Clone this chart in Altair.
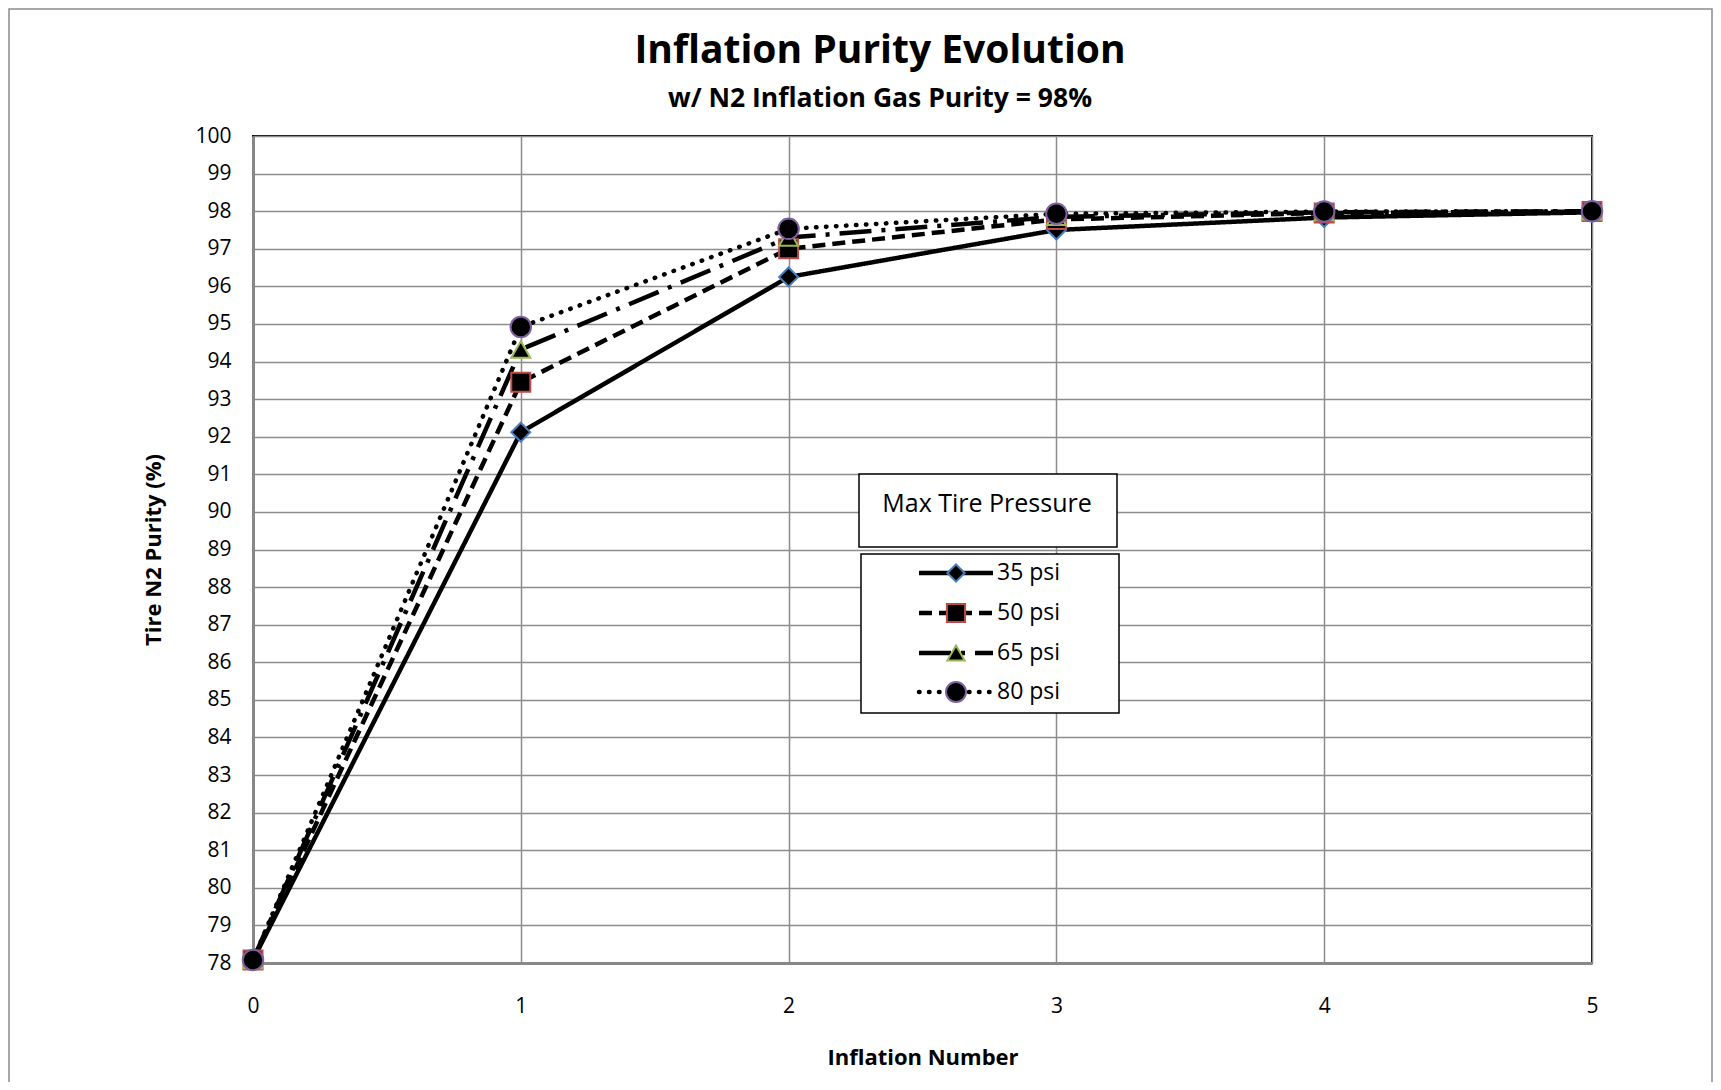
import altair as alt
import pandas as pd

# ---- data ----
inflation = [0, 1, 2, 3, 4, 5]
p35 = [78.08, 92.12, 96.25, 97.50, 97.83, 97.97]
p50 = [78.08, 93.45, 97.00, 97.78, 97.95, 97.99]
p65 = [78.08, 94.32, 97.30, 97.85, 97.97, 98.00]
p80 = [78.08, 94.92, 97.53, 97.93, 97.99, 98.00]
series_names = ["35 psi", "50 psi", "65 psi", "80 psi"]
y_ticks = list(range(78, 101))
x_ticks = [0, 1, 2, 3, 4, 5]

FONT = "Open Sans"
W, H = 1339, 827
PAD = {"left": 245, "top": 128, "right": 121, "bottom": 119}

rows = []
for name, vals in zip(series_names, [p35, p50, p65, p80]):
    for xv, yv in zip(inflation, vals):
        rows.append({"series": name, "x": xv, "y": yv})
df = pd.DataFrame(rows)

styles = {
    "35 psi": dict(dash=[1, 0], cap="butt", shape="diamond", stroke="#4A7EBB", size=360, lsize=300),
    "50 psi": dict(dash=[13, 7], cap="butt", shape="square", stroke="#BE4B48", size=361, lsize=330),
    "65 psi": dict(dash=[32, 10, 4, 10], cap="butt", shape="triangle-up", stroke="#98B954", size=360, lsize=300),
    "80 psi": dict(dash=[0.5, 9.5], cap="round", shape="circle", stroke="#7D60A0", size=420, lsize=400),
}

xs = alt.Scale(domain=[0, 5], nice=False)
ys = alt.Scale(domain=[78, 100], nice=False, zero=False)

x_axis = alt.Axis(
    values=x_ticks, format="d", title="Inflation Number", grid=True, ticks=False,
    labelPadding=32, labelFontSize=21, labelFont=FONT, labelColor="#000",
    labelFlush=False, labelOverlap=False,
    titleFont=FONT, titleFontSize=22, titleFontWeight="bold", titleColor="#000",
    titleX=W / 2, titleY=94, titleBaseline="middle", titleAnchor="middle",
    domainColor="#888888", domainWidth=3, gridColor="#8C8C8C", gridWidth=1.5,
)
y_axis = alt.Axis(
    values=y_ticks, format="d", title="Tire N2 Purity (%)", grid=True, ticks=False,
    labelPadding=22, labelFontSize=21, labelFont=FONT, labelColor="#000",
    labelFlush=False, labelOverlap=False,
    titleFont=FONT, titleFontSize=22, titleFontWeight="bold", titleColor="#000",
    titleX=-100, titleY=H / 2, titleAngle=-90, titleBaseline="middle", titleAlign="center",
    domainColor="#888888", domainWidth=3, gridColor="#8C8C8C", gridWidth=1.5,
)

def X():
    return alt.X("x:Q", scale=xs, axis=x_axis)

def Y():
    return alt.Y("y:Q", scale=ys, axis=y_axis)

base = alt.Chart(df)
layers = []
for name in series_names:
    st = styles[name]
    sub = base.transform_filter(alt.datum.series == name)
    layers.append(sub.mark_line(color="black", strokeWidth=4.5, strokeDash=st["dash"],
                                strokeCap=st["cap"]).encode(x=X(), y=Y()))
for name in series_names:
    st = styles[name]
    sub = base.transform_filter(alt.datum.series == name)
    layers.append(sub.mark_point(shape=st["shape"], filled=False, fill="black", fillOpacity=1,
                                 stroke=st["stroke"], strokeWidth=2, size=st["size"], opacity=1)
                  .encode(x=X(), y=Y()))

# ---- titles ----
title = alt.Chart(pd.DataFrame({"t": ["Inflation Purity Evolution"]})).mark_text(
    font=FONT, fontSize=39, fontWeight="bold", color="#000", baseline="middle", align="center"
).encode(text="t:N", x=alt.value(627), y=alt.value(-85))
subtitle = alt.Chart(pd.DataFrame({"t": ["w/ N2 Inflation Gas Purity = 98%"]})).mark_text(
    font=FONT, fontSize=26.5, fontWeight="bold", color="#000", baseline="middle", align="center"
).encode(text="t:N", x=alt.value(627), y=alt.value(-37))

# ---- outer chart frame ----
frame = alt.Chart(pd.DataFrame({"a": [0]})).mark_rect(
    fill=None, stroke="#8C8C8C", strokeWidth=1.5
).encode(x=alt.value(-PAD["left"] + 1), x2=alt.value(W + PAD["right"] - 1),
         y=alt.value(-PAD["top"] + 1), y2=alt.value(H + PAD["bottom"] + 5))

# ---- custom legend ----
leg_title_box = alt.Chart(pd.DataFrame({"a": [0]})).mark_rect(
    fill="white", stroke="black", strokeWidth=1.5
).encode(x=alt.value(606), x2=alt.value(864), y=alt.value(338), y2=alt.value(411))
leg_title = alt.Chart(pd.DataFrame({"t": ["Max Tire Pressure"]})).mark_text(
    font=FONT, fontSize=25, color="#000", baseline="middle", align="center"
).encode(text="t:N", x=alt.value(734), y=alt.value(368))
leg_box = alt.Chart(pd.DataFrame({"a": [0]})).mark_rect(
    fill="white", stroke="black", strokeWidth=1.5
).encode(x=alt.value(608), x2=alt.value(866), y=alt.value(418), y2=alt.value(577))

legend_layers = [leg_title_box, leg_title, leg_box]
row_y = [437, 477, 517, 556]
for name, ry in zip(series_names, row_y):
    st = styles[name]
    ld = pd.DataFrame({"lx": [666, 740], "ly": [ry, ry], "label": [name, name]})
    legend_layers.append(alt.Chart(ld).mark_line(
        color="black", strokeWidth=4.5, strokeDash=st["dash"], strokeCap=st["cap"]
    ).encode(x=alt.X("lx:Q", scale=None), y=alt.Y("ly:Q", scale=None)))
    pd1 = pd.DataFrame({"lx": [703], "ly": [ry], "label": [name]})
    legend_layers.append(alt.Chart(pd1).mark_point(
        shape=st["shape"], filled=False, fill="black", fillOpacity=1, stroke=st["stroke"],
        strokeWidth=2, size=st["lsize"], opacity=1
    ).encode(x=alt.X("lx:Q", scale=None), y=alt.Y("ly:Q", scale=None)))
    legend_layers.append(alt.Chart(pd1).mark_text(
        font=FONT, fontSize=23, color="#000", align="left", baseline="middle", dx=41
    ).encode(x=alt.X("lx:Q", scale=None), y=alt.Y("ly:Q", scale=None), text="label:N"))

chart = alt.layer(frame, *layers, title, subtitle, *legend_layers).properties(
    width=W, height=H, padding=PAD,
    autosize=alt.AutoSizeParams(type="none"),
    background="white",
).configure_view(stroke="black", strokeWidth=2).resolve_scale(x="shared", y="shared")

chart.save("out.html", embed_options={"renderer": "svg", "actions": False})
